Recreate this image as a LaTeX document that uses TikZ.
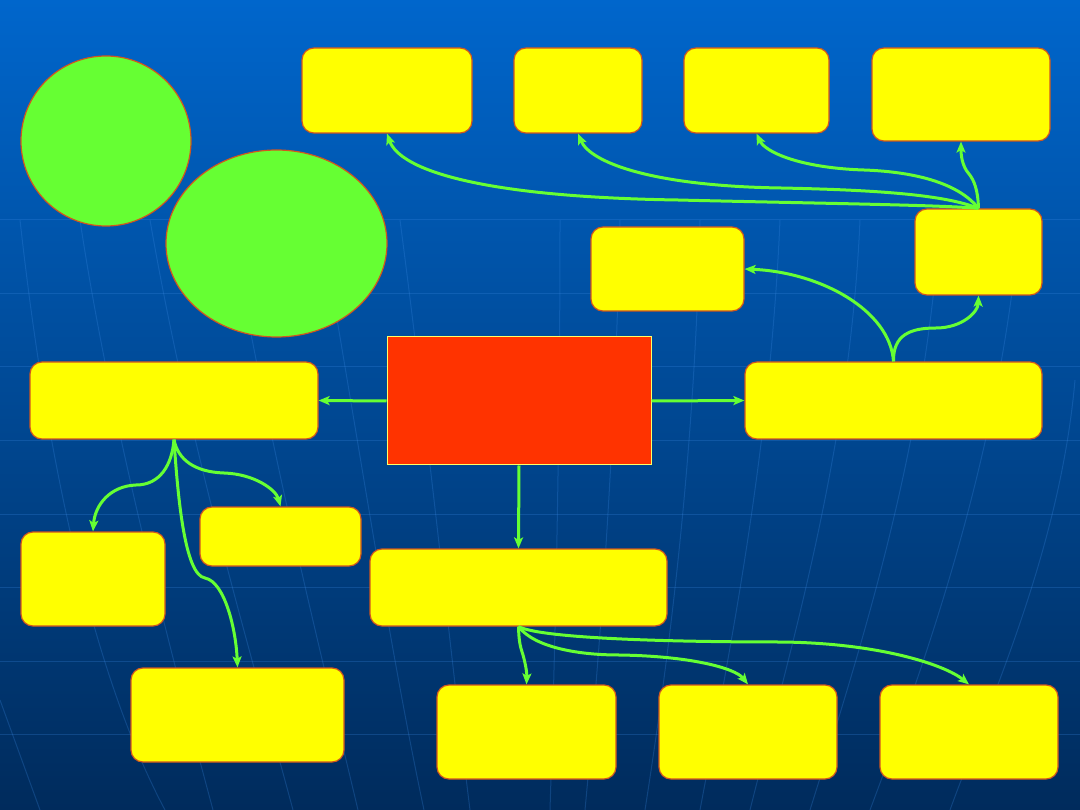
\documentclass[tikz,border=0pt]{standalone}
\usetikzlibrary{arrows.meta,shapes.geometric}
\definecolor{bgtop}{HTML}{0066CC}
\definecolor{bgmid}{HTML}{00529F}
\definecolor{bgbot}{HTML}{002B5C}
\definecolor{gridc}{HTML}{3C8CE6}
\definecolor{yfill}{HTML}{FFFF00}
\definecolor{bord}{HTML}{D2561E}
\definecolor{gfill}{HTML}{66FF33}
\definecolor{rfill}{HTML}{FF3300}
\definecolor{rbord}{HTML}{FFFF66}
\definecolor{arrc}{HTML}{66FF33}
\tikzset{
  ybox/.style={draw=bord, fill=yfill, line width=1.2pt, rounded corners=12pt, inner sep=0pt},
  gball/.style={draw=bord, fill=gfill, line width=1.2pt, ellipse, inner sep=0pt},
  rbox/.style={draw=rbord, fill=rfill, line width=1pt, inner sep=0pt},
  arr/.style={draw=arrc, line width=3pt, -{Stealth[length=11pt,width=9pt,inset=2.5pt]}},
  gline/.style={draw=gridc, line width=1pt, opacity=0.25}
}
\begin{document}
\begin{tikzpicture}[x=1pt,y=-1pt]
\useasboundingbox (0,0) rectangle (1080,810);
\shade[top color=bgtop, middle color=bgmid, bottom color=bgbot] (0,0) rectangle (1080,810);
% faint globe grid
\foreach \yy in {220,293.5,367,440.5,514,587.5,661,734.5}
  \draw[gline] (0,\yy) -- (1080,\yy);
\draw[gline] (20,220) .. controls (40,400) and (80,650) .. (165,810);
\draw[gline] (80,220) .. controls (110,420) and (170,650) .. (213,810);
\draw[gline] (150,220) .. controls (190,450) and (250,650) .. (293,810);
\draw[gline] (230,220) .. controls (270,450) and (320,650) .. (358,810);
\draw[gline] (320,220) .. controls (360,450) and (390,650) .. (424,810);
\draw[gline] (400,220) .. controls (430,450) and (450,650) .. (470,810);
\draw[gline] (560,220) .. controls (560,450) and (555,650) .. (550,810);
\draw[gline] (620,220) .. controls (615,450) and (600,650) .. (585,810);
\draw[gline] (700,220) .. controls (695,450) and (670,650) .. (645,810);
\draw[gline] (780,220) .. controls (770,450) and (730,650) .. (700,810);
\draw[gline] (860,220) .. controls (850,450) and (790,650) .. (750,810);
\draw[gline] (940,220) .. controls (925,450) and (860,650) .. (810,810);
\draw[gline] (1020,220) .. controls (1000,450) and (930,650) .. (870,810);
\draw[gline] (1075,380) .. controls (1060,550) and (990,700) .. (950,810);
\draw[gline] (0,700) -- (40,810);

% nodes
\node[gball, minimum width=170pt, minimum height=170pt] (c1) at (106,141) {};
\node[gball, minimum width=221pt, minimum height=187pt] (c2) at (276.5,243.5) {};
\node[ybox, minimum width=170pt, minimum height=85pt] (t1) at (387,90.5) {};
\node[ybox, minimum width=128pt, minimum height=85pt] (t2) at (578,90.5) {};
\node[ybox, minimum width=145pt, minimum height=85pt] (t3) at (756.5,90.5) {};
\node[ybox, minimum width=178pt, minimum height=93pt] (t4) at (961,94.5) {};
\node[ybox, minimum width=127pt, minimum height=86pt] (r1) at (978.5,252) {};
\node[ybox, minimum width=153pt, minimum height=84pt] (m1) at (667.5,269) {};
\node[rbox, minimum width=264pt, minimum height=128pt] (red) at (519,401) {};
\node[ybox, minimum width=288pt, minimum height=77pt] (lb) at (174,400.5) {};
\node[ybox, minimum width=297pt, minimum height=77pt] (rb) at (893.5,400.5) {};
\node[ybox, minimum width=144pt, minimum height=94pt] (a) at (93,579) {};
\node[ybox, minimum width=161pt, minimum height=59pt] (b) at (280.5,536.5) {};
\node[ybox, minimum width=213pt, minimum height=94pt] (c) at (237.5,715) {};
\node[ybox, minimum width=297pt, minimum height=77pt] (d) at (518.5,587.5) {};
\node[ybox, minimum width=179pt, minimum height=94pt] (e) at (526.5,732) {};
\node[ybox, minimum width=178pt, minimum height=94pt] (f) at (748,732) {};
\node[ybox, minimum width=178pt, minimum height=94pt] (g) at (969,732) {};

% connectors
\draw[arr] (red.west) -- (lb.east);
\draw[arr] (red.east) -- (rb.west);
\draw[arr] (red.south) -- (d.north);

\draw[arr] (rb.north) .. controls (890,310) and (820,272) .. (m1.east);
\draw[arr] (rb.north) .. controls (893,335) and (910,328) .. (936,328) .. controls (962,328) and (978,312) .. (r1.south);

\draw[arr] (r1.north) .. controls (978,190) and (974,180) .. (969,174) .. controls (962,166) and (961,155) .. (t4.south);
\draw[arr] (r1.north) .. controls (960,185) and (920,172) .. (864,170) .. controls (800,168) and (765,152) .. (t3.south);
\draw[arr] (r1.north) .. controls (945,195) and (880,190) .. (781,188) .. controls (650,186) and (590,162) .. (t2.south);
\draw[arr] (r1.north) .. controls (945,205) and (800,203) .. (678,200) .. controls (480,197) and (400,170) .. (t1.south);

\draw[arr] (lb.south) .. controls (172,465) and (160,485) .. (136,485) .. controls (110,486) and (95,505) .. (a.north);
\draw[arr] (lb.south) .. controls (178,460) and (195,472) .. (224,473) .. controls (255,474) and (276,490) .. (b.north);
\draw[arr] (lb.south) .. controls (178,500) and (185,575) .. (205,578) .. controls (225,582) and (236,630) .. (c.north);

\draw[arr] (d.south) .. controls (519,645) and (521,648) .. (523,655) .. controls (525,662) and (527,672) .. (e.north);
\draw[arr] (d.south) .. controls (535,648) and (580,655) .. (619,655) .. controls (690,656) and (735,668) .. (f.north);
\draw[arr] (d.south) .. controls (545,640) and (700,642) .. (781,642) .. controls (880,643) and (945,665) .. (g.north);
\end{tikzpicture}
\end{document}
